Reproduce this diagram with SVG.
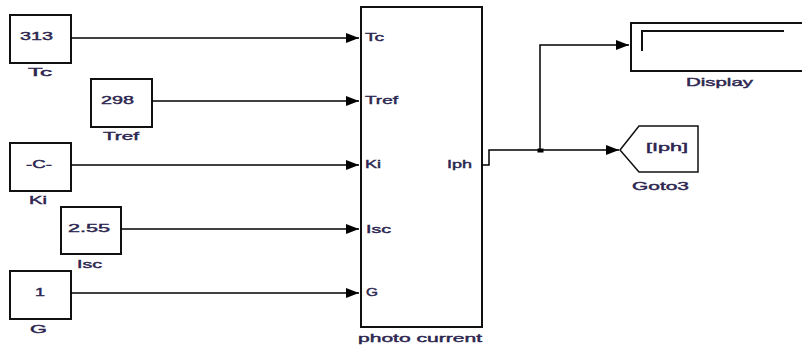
<svg xmlns="http://www.w3.org/2000/svg" width="802" height="351" viewBox="0 0 802 351">
<defs>
<marker id="ah" markerWidth="14" markerHeight="12" refX="13" refY="5" orient="auto" markerUnits="userSpaceOnUse">
<path d="M0,0 L13,5 L0,10 Z" fill="#000"/>
</marker>
</defs>
<style>
.blk{fill:#fff;stroke:#111;stroke-width:2}
.t{font-family:"Liberation Sans",Arial,sans-serif;font-size:11px;fill:#2c2650;stroke:#2c2650;stroke-width:0.4}
.c{text-anchor:middle}
.ln{fill:none;stroke:#000;stroke-width:1.5}
</style>
<rect width="802" height="351" fill="#fff"/>
<g id="Tc">
<rect class="blk" x="10" y="15" width="61" height="48"/>
<text class="t" x="20" y="40" textLength="33" lengthAdjust="spacingAndGlyphs">313</text>
<text class="t" x="28" y="76" textLength="24" lengthAdjust="spacingAndGlyphs">Tc</text>
</g>
<g id="Tref">
<rect class="blk" x="91" y="79" width="61" height="48"/>
<text class="t" x="101" y="104" textLength="33" lengthAdjust="spacingAndGlyphs">298</text>
<text class="t" x="103" y="140" textLength="36" lengthAdjust="spacingAndGlyphs">Tref</text>
</g>
<g id="Ki">
<rect class="blk" x="10" y="143" width="61" height="48"/>
<text class="t" x="26" y="168" textLength="26" lengthAdjust="spacingAndGlyphs">-C-</text>
<text class="t" x="29" y="204" textLength="18" lengthAdjust="spacingAndGlyphs">Ki</text>
</g>
<g id="Isc">
<rect class="blk" x="61" y="207" width="60" height="47"/>
<text class="t" x="68" y="232" textLength="42" lengthAdjust="spacingAndGlyphs">2.55</text>
<text class="t" x="77" y="268" textLength="25" lengthAdjust="spacingAndGlyphs">Isc</text>
</g>
<g id="G">
<rect class="blk" x="10" y="271" width="61" height="48"/>
<text class="t" x="35" y="296" textLength="10" lengthAdjust="spacingAndGlyphs">1</text>
<text class="t" x="30" y="333" textLength="17" lengthAdjust="spacingAndGlyphs">G</text>
</g>
<g id="photo_current">
<rect class="blk" x="361" y="7" width="121" height="320"/>
<text class="t" x="365" y="41" textLength="19" lengthAdjust="spacingAndGlyphs">Tc</text>
<text class="t" x="365" y="104" textLength="33" lengthAdjust="spacingAndGlyphs">Tref</text>
<text class="t" x="365" y="168" textLength="16" lengthAdjust="spacingAndGlyphs">Ki</text>
<text class="t" x="366" y="233" textLength="25" lengthAdjust="spacingAndGlyphs">Isc</text>
<text class="t" x="366" y="296" textLength="12" lengthAdjust="spacingAndGlyphs">G</text>
<text class="t" x="447" y="168" textLength="25" lengthAdjust="spacingAndGlyphs">Iph</text>
<text class="t" x="358" y="342" textLength="124" lengthAdjust="spacingAndGlyphs">photo current</text>
</g>
<g id="Display">
<path d="M806,23 H631 V71 H806" fill="#fff" stroke="#111" stroke-width="2"/>
<path d="M642,51 V31 H784" fill="none" stroke="#111" stroke-width="2"/>
<text class="t" x="686" y="86" textLength="67" lengthAdjust="spacingAndGlyphs">Display</text>
</g>
<g id="Goto3">
<path d="M620,150 L639,126 H698 V172 H639 Z" fill="#fff" stroke="#111" stroke-width="1.5"/>
<text class="t" x="646" y="151" textLength="42" lengthAdjust="spacingAndGlyphs">[Iph]</text>
<text class="t" x="632" y="190" textLength="57" lengthAdjust="spacingAndGlyphs">Goto3</text>
</g>
<g id="connectors">
<path class="ln" d="M71,38 H359" marker-end="url(#ah)"/>
<path class="ln" d="M152,101 H359" marker-end="url(#ah)"/>
<path class="ln" d="M71,165 H359" marker-end="url(#ah)"/>
<path class="ln" d="M121,229 H359" marker-end="url(#ah)"/>
<path class="ln" d="M71,293 H359" marker-end="url(#ah)"/>
<path class="ln" d="M482,165 H489 V150 H619" marker-end="url(#ah)"/>
<path class="ln" d="M540,150 V45 H629" marker-end="url(#ah)"/>
<rect x="537.5" y="148.5" width="6" height="4" fill="#000"/>
</g>
</svg>
